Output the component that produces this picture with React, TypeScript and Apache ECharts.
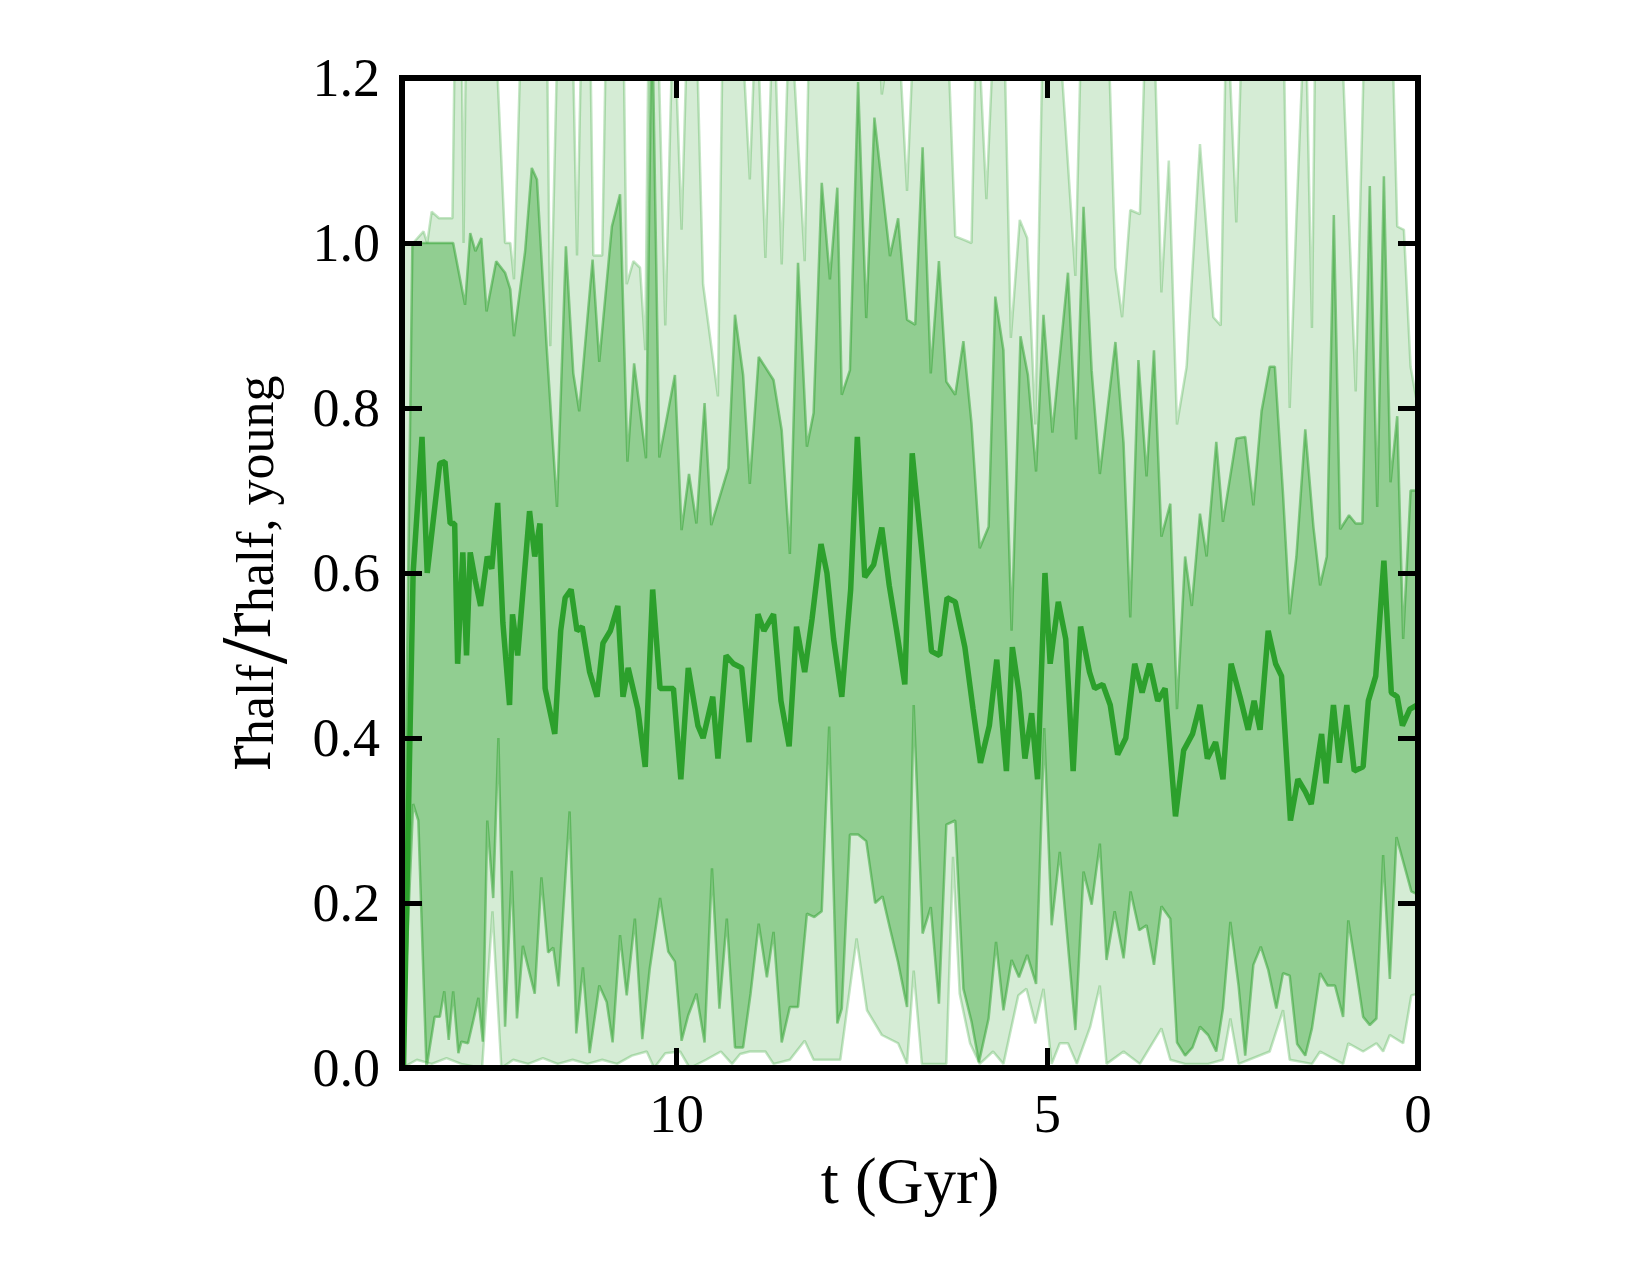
import React, { useEffect, useRef } from 'react';
import * as echarts from 'echarts';

// x = lookback time t (Gyr), y = r_half / r_half,young
const P95: [number, number][] = [
  [13.70, 1.0], [13.55, 1.0], [13.41, 1.014], [13.36, 1.0], [13.30, 1.038], [13.20, 1.03], [13.02, 1.03],
  [12.98, 1.3], [12.90, 1.3], [12.87, 1.0], [12.83, 1.3], [12.46, 1.3], [12.31, 1.0], [12.24, 1.0],
  [12.19, 0.956], [12.08, 1.3], [11.75, 1.3], [11.70, 0.875], [11.59, 1.3], [11.41, 1.3], [11.34, 0.985],
  [11.27, 1.3], [11.17, 1.3], [11.12, 0.985], [11.00, 0.985], [10.94, 1.3], [10.72, 1.3], [10.67, 0.95],
  [10.58, 0.978], [10.49, 0.97], [10.42, 0.87], [10.37, 1.3], [10.26, 1.3], [10.15, 0.9], [10.04, 1.3],
  [9.93, 1.016], [9.84, 1.3], [9.74, 1.3], [9.64, 0.95], [9.44, 0.814], [9.37, 1.3], [9.14, 1.3],
  [9.01, 1.077], [8.92, 1.3], [8.80, 0.982], [8.69, 1.3], [8.58, 0.974], [8.47, 1.3], [8.27, 0.978],
  [8.20, 1.3], [7.30, 1.3], [7.23, 1.18], [7.03, 1.3], [6.89, 1.063], [6.78, 1.3], [6.36, 1.3],
  [6.24, 1.008], [6.13, 1.004], [6.02, 1.0], [5.95, 1.3], [5.82, 1.053], [5.70, 1.3], [5.59, 1.3],
  [5.49, 0.885], [5.37, 1.028], [5.27, 1.006], [5.16, 0.78], [5.05, 1.3], [4.87, 1.3], [4.62, 0.96],
  [4.53, 1.3], [4.19, 1.3], [4.08, 0.97], [3.99, 0.91], [3.88, 1.04], [3.75, 1.035], [3.66, 1.3],
  [3.57, 1.3], [3.46, 0.94], [3.36, 1.10], [3.25, 0.78], [3.12, 0.85], [2.94, 1.12], [2.76, 0.91],
  [2.66, 0.90], [2.58, 1.3], [2.45, 1.025], [2.36, 1.3], [1.82, 1.3], [1.73, 0.80], [1.64, 1.03],
  [1.52, 1.3], [1.43, 0.897], [1.38, 1.3], [1.18, 1.3], [1.05, 1.3], [0.84, 0.82], [0.71, 1.3],
  [0.36, 1.3], [0.28, 1.02], [0.19, 1.016], [0.10, 0.85], [0.0, 0.80],
];

const P75: [number, number][] = [
  [13.70, 0.0], [13.56, 1.0], [13.01, 1.0], [12.85, 0.925], [12.78, 1.012], [12.71, 0.99], [12.63, 1.006],
  [12.56, 0.917], [12.43, 0.978], [12.31, 0.964], [12.24, 0.944], [12.19, 0.887], [12.04, 0.99],
  [11.95, 1.091], [11.88, 1.077], [11.75, 0.875], [11.61, 0.68], [11.49, 0.996], [11.39, 0.842],
  [11.31, 0.796], [11.13, 0.98], [11.04, 0.856], [10.87, 1.02], [10.76, 1.059], [10.66, 0.735],
  [10.57, 0.854], [10.41, 0.739], [10.33, 1.3], [10.23, 0.74], [10.02, 0.84], [9.93, 0.652],
  [9.83, 0.72], [9.73, 0.66], [9.62, 0.806], [9.53, 0.658], [9.30, 0.727], [9.21, 0.913], [9.10, 0.84],
  [9.01, 0.708], [8.89, 0.862], [8.69, 0.834], [8.58, 0.773], [8.47, 0.623], [8.36, 0.976],
  [8.24, 0.753], [8.15, 0.794], [8.04, 1.073], [7.93, 0.956], [7.83, 1.067], [7.77, 0.816],
  [7.66, 0.846], [7.55, 1.195], [7.44, 0.909], [7.33, 1.152], [7.12, 0.984], [7.01, 1.03],
  [6.89, 0.907], [6.78, 0.901], [6.68, 1.116], [6.57, 0.842], [6.46, 0.978], [6.36, 0.832],
  [6.24, 0.816], [6.13, 0.881], [6.02, 0.781], [5.91, 0.63], [5.79, 0.656], [5.70, 0.935],
  [5.59, 0.87], [5.48, 0.53], [5.36, 0.887], [5.26, 0.84], [5.15, 0.723], [5.05, 0.913], [4.93, 0.77],
  [4.72, 0.964], [4.61, 0.762], [4.51, 1.044], [4.40, 0.845], [4.29, 0.72], [4.08, 0.88], [3.97, 0.757],
  [3.88, 0.546], [3.77, 0.858], [3.66, 0.717], [3.56, 0.87], [3.46, 0.644], [3.34, 0.684], [3.25, 0.435],
  [3.14, 0.62], [3.05, 0.56], [2.94, 0.672], [2.85, 0.62], [2.72, 0.759], [2.63, 0.662], [2.45, 0.763],
  [2.33, 0.765], [2.22, 0.682], [2.11, 0.796], [2.00, 0.85], [1.93, 0.85], [1.82, 0.696], [1.73, 0.55],
  [1.64, 0.62], [1.52, 0.774], [1.41, 0.656], [1.32, 0.585], [1.23, 0.62], [1.135, 1.034], [1.05, 0.653],
  [0.93, 0.67], [0.84, 0.66], [0.75, 0.66], [0.65, 1.069], [0.55, 0.68], [0.46, 1.081], [0.37, 0.71],
  [0.28, 0.79], [0.20, 0.52], [0.10, 0.70], [0.0, 0.70],
];

const P25: [number, number][] = [
  [13.70, 0.0], [13.55, 0.32], [13.48, 0.30], [13.37, 0.0], [13.26, 0.062], [13.19, 0.062], [13.13, 0.093],
  [13.07, 0.034], [13.01, 0.093], [12.94, 0.018], [12.90, 0.032], [12.81, 0.03], [12.74, 0.057],
  [12.67, 0.085], [12.61, 0.032], [12.55, 0.30], [12.47, 0.206], [12.40, 0.40], [12.31, 0.05],
  [12.22, 0.239], [12.15, 0.06], [12.07, 0.148], [12.00, 0.122], [11.91, 0.09], [11.82, 0.231],
  [11.73, 0.14], [11.66, 0.146], [11.59, 0.099], [11.44, 0.311], [11.35, 0.042], [11.26, 0.122],
  [11.17, 0.018], [11.04, 0.10], [10.94, 0.08], [10.86, 0.031], [10.76, 0.161], [10.67, 0.088],
  [10.56, 0.181], [10.46, 0.035], [10.36, 0.12], [10.22, 0.206], [10.11, 0.141], [10.02, 0.129],
  [9.93, 0.033], [9.84, 0.064], [9.73, 0.09], [9.62, 0.031], [9.52, 0.242], [9.42, 0.072], [9.32, 0.181],
  [9.21, 0.025], [9.10, 0.025], [9.00, 0.09], [8.89, 0.175], [8.78, 0.11], [8.69, 0.165], [8.58, 0.031],
  [8.47, 0.074], [8.36, 0.074], [8.24, 0.187], [8.14, 0.183], [8.04, 0.19], [7.94, 0.414], [7.83, 0.054],
  [7.77, 0.072], [7.66, 0.283], [7.55, 0.283], [7.44, 0.275], [7.32, 0.20], [7.22, 0.208], [7.12, 0.169],
  [7.01, 0.128], [6.89, 0.074], [6.80, 0.44], [6.68, 0.163], [6.57, 0.195], [6.46, 0.078], [6.36, 0.295],
  [6.24, 0.30], [6.13, 0.096], [6.02, 0.056], [5.92, 0.007], [5.79, 0.06], [5.69, 0.153], [5.59, 0.07],
  [5.48, 0.131], [5.38, 0.11], [5.27, 0.137], [5.15, 0.102], [5.04, 0.412], [4.94, 0.173], [4.83, 0.262],
  [4.62, 0.046], [4.51, 0.238], [4.40, 0.198], [4.29, 0.272], [4.20, 0.131], [4.09, 0.19], [3.97, 0.133],
  [3.875, 0.214], [3.76, 0.167], [3.66, 0.173], [3.56, 0.125], [3.46, 0.196], [3.34, 0.181], [3.25, 0.031],
  [3.14, 0.015], [3.04, 0.025], [2.94, 0.05], [2.83, 0.04], [2.72, 0.02], [2.63, 0.072], [2.53, 0.177],
  [2.42, 0.10], [2.33, 0.015], [2.22, 0.125], [2.12, 0.147], [2.02, 0.119], [1.91, 0.072], [1.82, 0.115],
  [1.73, 0.112], [1.63, 0.029], [1.52, 0.015], [1.43, 0.048], [1.32, 0.115], [1.22, 0.10], [1.12, 0.10],
  [1.01, 0.062], [0.94, 0.179], [0.83, 0.116], [0.74, 0.062], [0.65, 0.052], [0.56, 0.06], [0.47, 0.258],
  [0.38, 0.108], [0.29, 0.28], [0.09, 0.214], [0.0, 0.21],
];

const P5: [number, number][] = [
  [13.70, 0.0], [13.50, 0.01], [13.30, 0.005], [13.10, 0.012], [12.90, 0.005], [12.62, 0.0], [12.48, 0.19],
  [12.36, 0.0], [12.20, 0.01], [12.00, 0.005], [11.80, 0.012], [11.60, 0.005], [11.40, 0.01], [11.20, 0.005],
  [11.00, 0.01], [10.80, 0.005], [10.60, 0.015], [10.40, 0.02], [10.30, 0.0], [10.15, 0.018], [9.95, 0.02],
  [9.82, 0.0], [9.60, 0.01], [9.40, 0.02], [9.25, 0.005], [9.14, 0.017], [9.01, 0.02], [8.80, 0.02],
  [8.69, 0.005], [8.47, 0.01], [8.27, 0.033], [8.15, 0.01], [7.79, 0.01], [7.57, 0.157], [7.43, 0.07],
  [7.23, 0.04], [7.01, 0.03], [6.89, 0.005], [6.80, 0.118], [6.69, 0.005], [6.36, 0.005], [6.27, 0.256],
  [6.18, 0.09], [6.04, 0.03], [5.91, 0.005], [5.73, 0.02], [5.59, 0.005], [5.39, 0.088], [5.28, 0.096],
  [5.16, 0.054], [5.05, 0.096], [4.94, 0.005], [4.83, 0.03], [4.72, 0.03], [4.60, 0.005], [4.42, 0.05],
  [4.29, 0.10], [4.20, 0.005], [3.97, 0.02], [3.75, 0.005], [3.46, 0.048], [3.34, 0.01], [3.14, 0.005],
  [2.83, 0.005], [2.63, 0.01], [2.53, 0.06], [2.42, 0.005], [2.00, 0.02], [1.82, 0.07], [1.73, 0.01],
  [1.43, 0.005], [1.32, 0.02], [1.01, 0.005], [0.94, 0.03], [0.74, 0.02], [0.56, 0.03], [0.47, 0.02],
  [0.38, 0.04], [0.20, 0.03], [0.09, 0.088], [0.0, 0.09],
];

const MEDIAN: [number, number][] = [
  [13.68, 0.0], [13.55, 0.6], [13.43, 0.765], [13.36, 0.6], [13.19, 0.733], [13.12, 0.735], [13.05, 0.66],
  [12.99, 0.66], [12.95, 0.49], [12.88, 0.625], [12.83, 0.5], [12.78, 0.625], [12.71, 0.59], [12.64, 0.56],
  [12.55, 0.62], [12.49, 0.605], [12.41, 0.685], [12.34, 0.54], [12.25, 0.44], [12.21, 0.55], [12.14, 0.5],
  [11.98, 0.675], [11.91, 0.62], [11.84, 0.66], [11.77, 0.46], [11.64, 0.405], [11.56, 0.53], [11.50, 0.57],
  [11.42, 0.58], [11.34, 0.53], [11.27, 0.535], [11.17, 0.48], [11.07, 0.45], [10.99, 0.515], [10.89, 0.53],
  [10.79, 0.56], [10.72, 0.45], [10.65, 0.485], [10.52, 0.435], [10.42, 0.365], [10.32, 0.58], [10.22, 0.46],
  [10.04, 0.46], [9.94, 0.35], [9.84, 0.485], [9.71, 0.415], [9.64, 0.4], [9.51, 0.45], [9.44, 0.375],
  [9.33, 0.5], [9.23, 0.49], [9.12, 0.485], [9.02, 0.395], [8.90, 0.55], [8.82, 0.53], [8.69, 0.55],
  [8.59, 0.445], [8.48, 0.39], [8.38, 0.535], [8.27, 0.48], [8.17, 0.545], [8.05, 0.635], [7.97, 0.6],
  [7.88, 0.52], [7.77, 0.45], [7.65, 0.58], [7.56, 0.765], [7.46, 0.595], [7.34, 0.61], [7.23, 0.655],
  [7.13, 0.585], [7.03, 0.53], [6.92, 0.465], [6.82, 0.745], [6.70, 0.635], [6.63, 0.57], [6.56, 0.505],
  [6.45, 0.5], [6.35, 0.57], [6.24, 0.565], [6.11, 0.51], [6.00, 0.435], [5.90, 0.37], [5.78, 0.415],
  [5.68, 0.495], [5.55, 0.36], [5.47, 0.51], [5.38, 0.455], [5.30, 0.375], [5.21, 0.43], [5.13, 0.35],
  [5.03, 0.6], [4.96, 0.49], [4.85, 0.565], [4.75, 0.52], [4.65, 0.36], [4.55, 0.535], [4.43, 0.48],
  [4.36, 0.46], [4.25, 0.465], [4.15, 0.44], [4.05, 0.38], [3.94, 0.4], [3.82, 0.49], [3.72, 0.455],
  [3.62, 0.49], [3.51, 0.445], [3.41, 0.46], [3.27, 0.305], [3.16, 0.385], [3.04, 0.405], [2.94, 0.44],
  [2.84, 0.375], [2.73, 0.395], [2.63, 0.35], [2.52, 0.49], [2.40, 0.45], [2.29, 0.41], [2.21, 0.445],
  [2.13, 0.41], [2.02, 0.53], [1.92, 0.49], [1.84, 0.475], [1.72, 0.3], [1.62, 0.35], [1.52, 0.335],
  [1.44, 0.32], [1.30, 0.405], [1.24, 0.345], [1.14, 0.44], [1.06, 0.37], [0.96, 0.44], [0.86, 0.36],
  [0.74, 0.365], [0.67, 0.445], [0.57, 0.475], [0.46, 0.615], [0.36, 0.455], [0.28, 0.45], [0.21, 0.415],
  [0.11, 0.435], [0.01, 0.44],
];

const X_TICKS_INTERVAL = 5;
const Y_TICKS_INTERVAL = 0.2;

const FONT = "'Liberation Serif', 'DejaVu Serif', serif";
const LIGHT = '#d5ecd5';
const DARK = '#91ce91';
const GREEN = '#2ca02c';

function band(data: [number, number][], fill: string, edge: string) {
  return {
    type: 'line',
    data,
    symbol: 'none',
    showSymbol: false,
    clip: true,
    silent: true,
    lineStyle: { color: edge, width: 2.5 },
    areaStyle: { color: fill, opacity: 1, origin: 'start' },
  };
}

function frameAxisCommon() {
  return {
    axisLine: { show: true, onZero: false, lineStyle: { color: '#000', width: 6, cap: 'square' } },
    axisTick: { show: true, inside: true, length: 20, lineStyle: { color: '#000', width: 5 } },
    splitLine: { show: false },
    z: 10,
  };
}

export default function App() {
  const ref = useRef<HTMLDivElement>(null);
  useEffect(() => {
    document.body.style.margin = '0';
    const chart = echarts.init(ref.current!, null, { renderer: 'svg' });
    const option: any = {
      animation: false,
      backgroundColor: '#ffffff',
      grid: { left: 402, right: 232, top: 78, bottom: 207 },
      xAxis: [
        {
          type: 'value', min: 0, max: 13.7, interval: X_TICKS_INTERVAL, inverse: true, position: 'bottom',
          ...frameAxisCommon(),
          axisLabel: {
            show: true, showMaxLabel: false, margin: 18, color: '#000', fontFamily: FONT, fontSize: 55,
          },
          name: 't (Gyr)', nameLocation: 'middle', nameGap: 80,
          nameTextStyle: { color: '#000', fontFamily: FONT, fontSize: 65 },
        },
        {
          type: 'value', min: 0, max: 13.7, interval: X_TICKS_INTERVAL, inverse: true, position: 'top',
          ...frameAxisCommon(),
          axisLabel: { show: false },
        },
      ],
      yAxis: [
        {
          type: 'value', min: 0, max: 1.2, interval: Y_TICKS_INTERVAL, position: 'left',
          ...frameAxisCommon(),
          axisLabel: {
            show: true, margin: 22, color: '#000', fontFamily: FONT, fontSize: 54,
            formatter: (v: number) => v.toFixed(1),
          },
          name: '{r|r}{s|half}{sl|/}{r|r}{s|half, young}',
          nameLocation: 'middle', nameGap: 118, nameRotate: 90,
          nameTextStyle: {
            color: '#000', fontFamily: FONT,
            rich: {
              r: { fontSize: 76, lineHeight: 76, verticalAlign: 'top', fontFamily: FONT, color: '#000' },
              sl: { fontSize: 96, lineHeight: 74, verticalAlign: 'top', fontFamily: FONT, color: '#000' },
              s: { fontSize: 52, lineHeight: 52, padding: [22, 0, 0, 0], verticalAlign: 'bottom', fontFamily: FONT, color: '#000' },
            },
          },
        },
        {
          type: 'value', min: 0, max: 1.2, interval: Y_TICKS_INTERVAL, position: 'right',
          ...frameAxisCommon(),
          axisLabel: { show: false },
        },
      ],
      series: [
        band(P95, LIGHT, 'rgba(44,160,44,0.28)'),
        band(P75, DARK, 'rgba(44,160,44,0.5)'),
        band(P25, LIGHT, 'rgba(44,160,44,0.5)'),
        band(P5, '#ffffff', 'rgba(44,160,44,0.28)'),
        {
          type: 'line', data: MEDIAN, symbol: 'none', showSymbol: false, clip: true, silent: true,
          lineStyle: { color: GREEN, width: 5.5 },
        },
      ],
    };
    chart.setOption(option);
    return () => chart.dispose();
  }, []);
  return <div ref={ref} style={{ width: 1650, height: 1275 }} />;
}
